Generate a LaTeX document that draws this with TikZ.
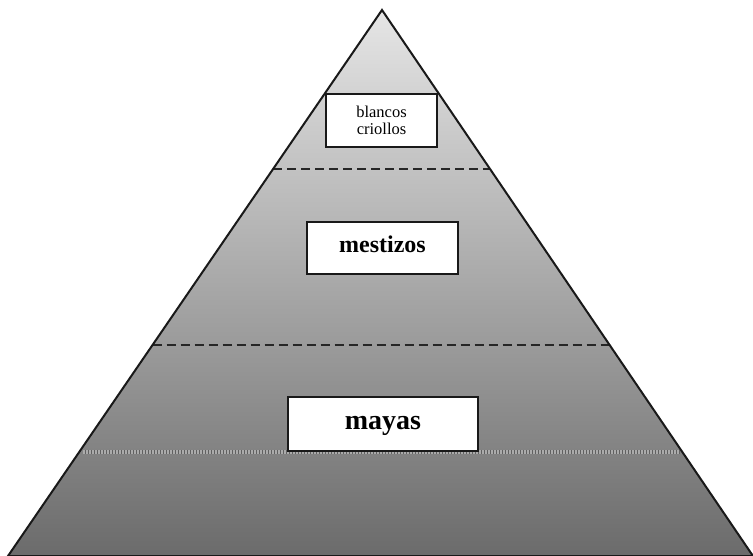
\documentclass[tikz,border=0pt]{standalone}
\usepackage{fontspec}
\setmainfont{Liberation Serif}
\usetikzlibrary{calc}
\begin{document}
\begin{tikzpicture}[x=1pt,y=-1pt,
  outline/.style={draw=black!90, line width=2pt, line join=miter},
  divider/.style={draw=black!85, line width=2.4pt, dash pattern=on 9pt off 5pt},
  grainbase/.style={draw=black!62, line width=4pt},
  grainline/.style={draw=black!33, line width=4pt, dash pattern=on 1.5pt off 1.5pt},
  layerbox/.style={draw=black!90, line width=2pt, fill=white, inner sep=0pt, align=center},
  ]
\useasboundingbox (0,0) rectangle (753,556);
\coordinate (apex) at (382,10);
\coordinate (bl) at (8,556);
\coordinate (br) at (753,556);

% pyramid body with vertical gradient
\shade[top color=black!10, bottom color=black!58] (apex) -- (br) -- (bl) -- cycle;

% light grainy stripe near the base
\coordinate (g1) at ($(apex)!0.809!(bl)$);
\coordinate (g2) at ($(apex)!0.809!(br)$);
\draw[grainbase] ($(g1)+(4,0)$) -- ($(g2)+(-2,0)$);
\draw[grainline] ($(g1)+(4,0)$) -- ($(g2)+(-2,0)$);

% dashed dividers between the layers
\coordinate (d1l) at ($(apex)!0.291!(bl)$);
\coordinate (d1r) at ($(apex)!0.291!(br)$);
\coordinate (d2l) at ($(apex)!0.6136!(bl)$);
\coordinate (d2r) at ($(apex)!0.6136!(br)$);
\draw[divider] (d1l) -- (d1r);
\draw[divider] (d2l) -- (d2r);

% outline
\draw[outline] (apex) -- (br) -- (bl) -- cycle;

% layer labels
\node[layerbox, minimum width=111pt, minimum height=53pt, font=\fontsize{16.5}{17}\selectfont]
  (blancos) at (381.5,120.5) {blancos\\criollos};
\node[layerbox, minimum width=151pt, minimum height=52pt, text depth=8pt,
  font=\fontsize{24}{28}\selectfont\bfseries]
  (mestizos) at (382.5,248) {mestizos};
\node[layerbox, minimum width=190pt, minimum height=54pt, text depth=3pt,
  font=\fontsize{28}{32}\selectfont\bfseries]
  (mayas) at (383,424) {mayas};
\end{tikzpicture}
\end{document}
